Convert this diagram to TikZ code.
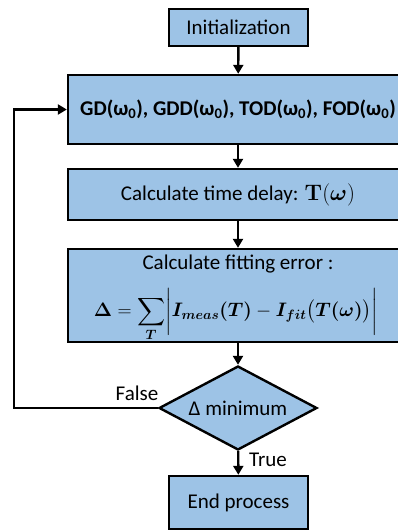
\documentclass[tikz,border=0pt]{standalone}
\usepackage{amsmath,bm,graphicx}
\usepackage[no-math]{fontspec}
\setmainfont{Carlito}
\usetikzlibrary{shapes.geometric,arrows.meta}
\definecolor{boxblue}{HTML}{9DC3E6}
\begin{document}
\begin{tikzpicture}[x=1pt,y=-1pt,
  flowbox/.style={draw=black,fill=boxblue,line width=2.4pt,inner sep=0pt,anchor=center},
  dec/.style={flowbox,diamond,aspect=1.88},
  arr/.style={line width=2.4pt,-{Triangle[length=9pt,width=10pt]}},
  txt/.style={font=\fontsize{21}{25}\selectfont},
  lbl/.style={txt,inner sep=0pt}]
\useasboundingbox (0,0) rectangle (398,531);
\node[flowbox,txt,minimum width=139pt,minimum height=37pt] (init) at (238.5,27.5) {Initialization};
\node[flowbox,txt,minimum width=340pt,minimum height=69pt,font=\fontsize{21}{25}\selectfont\bfseries] (gd) at (238,109.5) {GD(ω\textsubscript{0}), GDD(ω\textsubscript{0}), TOD(ω\textsubscript{0}), FOD(ω\textsubscript{0})};
\node[flowbox,txt,minimum width=340pt,minimum height=51pt] (td) at (238,194.5) {Calculate time delay: \scalebox{1.08}{$\mathbf{T}(\bm{\omega})$}};
\node[flowbox,minimum width=340pt,minimum height=93pt] (fe) at (238,295.5) {};
\node[lbl] (fe1) at (238,264) {Calculate fitting error :};
\node[lbl] (fe2) at (236,315) {\scalebox{0.94}{$\displaystyle \bm{\Delta} = \sum_{\bm{T}} \biggl| \bm{I_{meas}(T)} - \bm{I_{fit}}\bigl(\bm{T(\omega)}\bigr)\biggr|$}};
\node[dec,txt,minimum width=158pt,minimum height=84pt] (dm) at (238,408) {Δ minimum};
\node[flowbox,txt,minimum width=139pt,minimum height=53pt] (end) at (238.5,502.5) {End process};
\coordinate (lc) at (14,408);
\draw[arr] (init) -- (gd);
\draw[arr] (gd) -- (td);
\draw[arr] (td) -- (fe);
\draw[arr] (fe) -- (dm);
\draw[arr] (dm) -- (end);
\draw[arr] (dm.west) -- (lc) |- (gd.west);
\node[lbl] (f) at (137,393) {False};
\node[lbl] (t) at (268,460) {True};
\end{tikzpicture}
\end{document}
